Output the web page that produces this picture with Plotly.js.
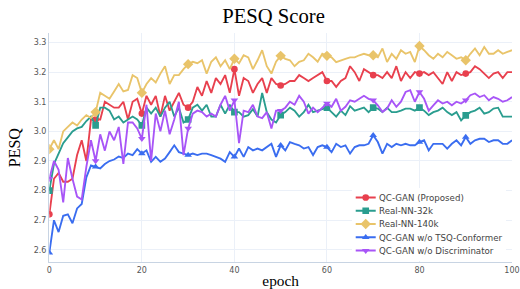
<!DOCTYPE html>
<html>
<head>
<meta charset="utf-8">
<script src="https://cdn.plot.ly/plotly-3.0.1.min.js"></script>
<style>
html,body{margin:0;padding:0;overflow:hidden;background:#fff;width:520px;height:289px}
#wrap{width:780px;height:434px;transform:scale(0.66667);transform-origin:0 0}
</style>
</head>
<body>
<div id="wrap"></div>
<script>
// epochs 0..100
const epochs = Array.from({length: 101}, (_, i) => i);
const markerEpochs = [0, 10, 20, 30, 40, 50, 60, 70, 80, 90];

const seriesNames = ["QC-GAN (Proposed)", "Real-NN-32k", "Real-NN-140k", "QC-GAN w/o TSQ-Conformer", "QC-GAN w/o Discriminator"];

const qcgan = [2.72,2.84,2.86,2.83,2.83,2.84,2.92,2.97,2.90,3.04,3.04,
3.04,3.10,3.09,3.08,3.08,3.10,3.04,3.10,3.11,3.06,
3.12,3.09,3.12,3.05,3.12,3.07,3.10,3.13,3.09,3.08,
3.10,3.15,3.12,3.17,3.13,3.18,3.16,3.19,3.13,3.21,
3.12,3.18,3.17,3.13,3.16,3.18,3.13,3.18,3.16,3.155,
3.16,3.17,3.17,3.19,3.18,3.17,3.18,3.19,3.20,3.17,
3.17,3.15,3.17,3.18,3.22,3.20,3.17,3.21,3.20,3.19,
3.19,3.18,3.20,3.18,3.22,3.17,3.20,3.18,3.20,3.195,
3.20,3.19,3.20,3.18,3.16,3.20,3.17,3.20,3.19,3.195,
3.20,3.22,3.21,3.195,3.18,3.195,3.20,3.18,3.20,3.20];

const realNN32k = [2.80,2.89,2.925,2.96,2.98,3.00,3.01,3.015,3.035,3.05,3.02,
3.08,3.08,3.07,3.04,3.05,3.03,3.04,3.05,3.04,3.02,
3.08,3.06,3.08,3.05,3.08,3.10,3.05,3.08,3.03,3.04,
3.08,3.09,3.07,3.09,3.05,3.05,3.09,3.06,3.09,3.065,
3.065,3.05,3.055,3.075,3.05,3.13,3.065,3.04,3.03,3.055,
3.065,3.08,3.07,3.05,3.065,3.09,3.065,3.07,3.075,3.08,
3.065,3.05,3.07,3.055,3.085,3.07,3.075,3.08,3.065,3.08,
3.077,3.065,3.08,3.065,3.065,3.07,3.077,3.077,3.07,3.08,
3.07,3.055,3.065,3.07,3.08,3.065,3.055,3.065,3.037,3.054,
3.065,3.07,3.08,3.06,3.065,3.077,3.08,3.05,3.05,3.05];

const realNN140k = [2.94,2.97,2.94,3.00,3.015,3.03,3.02,3.04,3.055,3.045,3.065,
3.13,3.12,3.11,3.135,3.16,3.135,3.14,3.19,3.18,3.13,
3.16,3.18,3.165,3.195,3.22,3.16,3.19,3.19,3.21,3.227,
3.235,3.23,3.24,3.195,3.235,3.25,3.22,3.24,3.21,3.245,
3.23,3.257,3.25,3.21,3.24,3.274,3.22,3.195,3.235,3.255,
3.245,3.24,3.22,3.235,3.24,3.262,3.25,3.235,3.262,3.255,
3.25,3.234,3.24,3.245,3.25,3.25,3.257,3.262,3.257,3.257,
3.25,3.28,3.234,3.262,3.245,3.274,3.262,3.268,3.234,3.288,
3.274,3.257,3.245,3.262,3.25,3.268,3.257,3.245,3.25,3.24,
3.262,3.28,3.257,3.285,3.262,3.262,3.274,3.262,3.268,3.274];

const woTSQ = [2.59,2.70,2.66,2.715,2.72,2.69,2.74,2.755,2.845,2.885,2.88,
2.875,2.89,2.90,2.905,2.915,2.91,2.925,2.92,2.94,2.925,
2.936,2.897,2.914,2.897,2.908,2.93,2.953,2.93,2.925,2.92,
2.925,2.92,2.925,2.925,2.92,2.914,2.908,2.897,2.93,2.914,
2.942,2.914,2.947,2.936,2.942,2.936,2.947,2.958,2.914,2.953,
2.936,2.964,2.958,2.953,2.942,2.947,2.92,2.947,2.953,2.947,
2.93,2.958,2.947,2.953,2.925,2.947,2.953,2.953,2.958,2.987,
2.964,2.925,2.958,2.947,2.958,2.953,2.958,2.953,2.953,2.964,
2.97,2.936,2.958,2.958,2.958,2.942,2.958,2.97,2.953,2.981,
2.958,2.97,2.975,2.975,2.964,2.97,2.97,2.958,2.958,2.97];

const woDisc = [2.84,2.90,2.87,2.76,2.91,2.84,2.78,2.77,2.88,2.97,2.90,
2.99,2.935,3.00,2.97,3.015,2.89,3.03,3.03,3.01,2.975,
3.09,2.90,3.06,3.00,3.07,2.99,3.04,3.10,2.92,3.01,
3.06,3.07,3.065,3.05,3.06,3.05,3.09,3.12,3.07,3.105,
2.96,3.07,3.065,3.09,3.05,3.045,3.065,3.01,3.07,3.07,
3.08,3.10,3.09,3.12,3.10,3.06,3.08,3.065,3.08,3.094,
3.083,3.11,3.07,3.083,3.105,3.10,3.11,3.12,3.11,3.105,
3.088,3.066,3.077,3.105,3.083,3.10,3.133,3.139,3.10,3.133,
3.11,3.07,3.088,3.105,3.094,3.10,3.088,3.10,3.094,3.105,
3.122,3.128,3.116,3.122,3.105,3.116,3.11,3.10,3.105,3.116];

const allSeries = [qcgan, realNN32k, realNN140k, woTSQ, woDisc];
const colors = ["#e8404e", "#2a9d8f", "#e9c46a", "#3a6df0", "#a855f7"];
const symbols = ["circle", "square", "diamond", "triangle-up", "triangle-down"];
const msizes = [10, 10, 12, 10, 10];

const traces = allSeries.map((ys, k) => ({
  type: "scatter",
  mode: "lines+markers",
  name: seriesNames[k],
  x: epochs,
  y: ys,
  line: {color: colors[k], width: 2.8},
  marker: {
    symbol: symbols[k],
    size: msizes[k],
    color: epochs.map(e => markerEpochs.includes(e) ? colors[k] : "rgba(0,0,0,0)"),
    line: {width: 0}
  }
}));

const axisFont = {family: "DejaVu Sans", size: 12, color: "#555"};

const layout = {
  width: 780,
  height: 434,
  margin: {l: 73.5, r: 12, t: 50, b: 41},
  paper_bgcolor: "#fff",
  plot_bgcolor: "#fff",
  font: {family: "DejaVu Sans", color: "#444"},
  title: {
    text: "PESQ Score",
    font: {family: "Liberation Serif", size: 31, color: "#000"},
    xref: "container", x: 0.526, xanchor: "center",
    yref: "container", y: 0.945, yanchor: "middle"
  },
  xaxis: {
    range: [0, 100],
    dtick: 20,
    tick0: 0,
    showgrid: true,
    gridcolor: "#ebf0f8",
    gridwidth: 1.5,
    zeroline: false,
    showline: true,
    linecolor: "#c8d4e3",
    linewidth: 2,
    ticks: "",
    tickfont: axisFont,
    title: {text: "epoch", font: {family: "Liberation Serif", size: 23, color: "#000"}, standoff: 7}
  },
  yaxis: {
    range: [2.559, 3.331],
    dtick: 0.1,
    tick0: 2.6,
    tickformat: ".1f",
    showgrid: true,
    gridcolor: "#ebf0f8",
    gridwidth: 1.5,
    zeroline: false,
    showline: true,
    linecolor: "#c8d4e3",
    linewidth: 2,
    ticks: "",
    tickfont: axisFont,
    title: {text: "PESQ", font: {family: "Liberation Serif", size: 24, color: "#000"}, standoff: 13}
  },
  legend: {
    x: 0.655, xanchor: "left",
    y: 0.005, yanchor: "bottom",
    bgcolor: "rgba(255,255,255,1)",
    font: {family: "DejaVu Sans", size: 13, color: "#444"},
    itemwidth: 30
  },
  showlegend: true
};

Plotly.newPlot("wrap", traces, layout, {displayModeBar: false, staticPlot: true});
</script>
</body>
</html>
